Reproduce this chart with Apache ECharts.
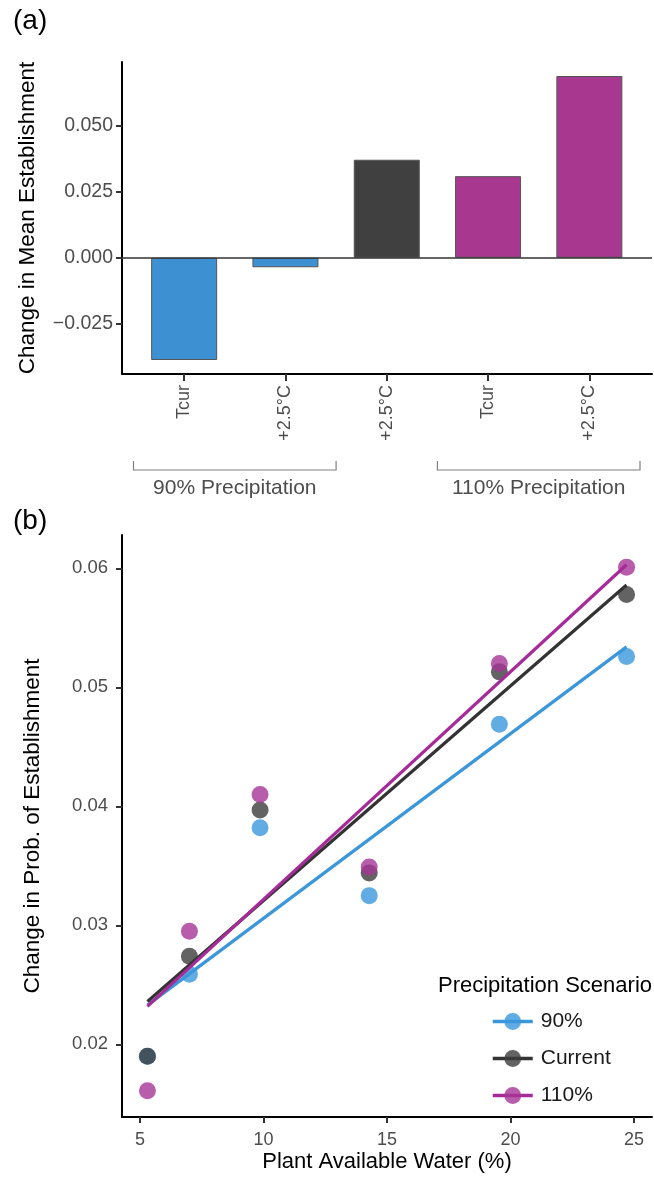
<!DOCTYPE html>
<html>
<head>
<meta charset="utf-8">
<script src="https://cdn.jsdelivr.net/npm/echarts@6/dist/echarts.min.js"></script>
<style>
  html, body { margin: 0; padding: 0; background: #fff; }
  #chart { width: 654px; height: 1182px; }
</style>
</head>
<body>
<div id="chart"></div>
<script>
// ---------- Panel (a) data ----------
const barCategories = ['Tcur', '+2.5°C', '+2.5°C', 'Tcur', '+2.5°C'];
const barScenario = ['90%', '90%', 'Current', '110%', '110%'];
const barValues = [-0.0387, -0.0036, 0.0371, 0.0309, 0.0688];
const barTicks = [-0.025, 0, 0.025, 0.05];
const bracketLabels = ['90% Precipitation', '110% Precipitation'];
const bracketFrom = [0, 3];
const bracketTo = [1, 4];

// ---------- Panel (b) data ----------
const scenarios = ['90%', 'Current', '110%'];
const pawX = [5.3, 7.0, 9.86, 14.28, 19.55, 24.7];
const est90 = [0.0190, 0.0259, 0.0382, 0.0325, 0.0469, 0.0526];
const estCur = [0.0190, 0.0274, 0.0397, 0.0344, 0.0513, 0.0578];
const est110 = [0.0161, 0.0295, 0.0410, 0.0349, 0.0520, 0.0601];
// fitted (lm) line values at first and last x
const fit90 = [0.0233, 0.0534];
const fitCur = [0.0236, 0.0586];
const fit110 = [0.0232, 0.0603];
const xTicksB = [5, 10, 15, 20, 25];
const yTicksB = [0.02, 0.03, 0.04, 0.05, 0.06];

const font = "'Liberation Sans', Arial, Helvetica, sans-serif";
const barColors = { '90%': '#3D91D2', 'Current': '#404040', '110%': '#A8378F' };
const pointColors = { '90%': '#3A97DB', 'Current': '#3c3c3c', '110%': '#A63597' };
const lineColors = { '90%': '#3C97DA', 'Current': '#333333', '110%': '#A62B98' };
const estBy = { '90%': est90, 'Current': estCur, '110%': est110 };
const fitBy = { '90%': fit90, 'Current': fitCur, '110%': fit110 };

const yMinA = -0.044, yMaxA = 0.0741;
const tickLabelColor = '#4d4d4d';

const chart = echarts.init(document.getElementById('chart'), null, { renderer: 'canvas' });

const series = [];
// zero line for panel (a)
series.push({
  type: 'line', xAxisIndex: 0, yAxisIndex: 0, data: [], silent: true,
  markLine: {
    symbol: 'none', silent: true, label: { show: false },
    lineStyle: { color: '#333', width: 1.6, type: 'solid' },
    data: [{ yAxis: 0 }]
  },
  z: 1
});
// bars
series.push({
  type: 'bar', xAxisIndex: 1, yAxisIndex: 1, barWidth: 66,
  data: barValues.map((v, i) => ({
    value: v,
    itemStyle: { color: barColors[barScenario[i]], borderColor: '#555', borderWidth: 1 }
  })),
  z: 2
});
// brackets under the category labels
series.push({
  type: 'custom', xAxisIndex: 1, yAxisIndex: 1, silent: true,
  data: bracketFrom.map((f, i) => [f, 0, i]),
  renderItem: function (params, api) {
    const i = api.value(2);
    const band = api.size([1, 0])[0];
    const p0 = api.coord([bracketFrom[i], yMinA]);
    const p1 = api.coord([bracketTo[i], yMinA]);
    const x0 = p0[0] - band / 2, x1 = p1[0] + band / 2;
    const yb = p0[1];
    const st = { stroke: '#808080', lineWidth: 1.2, fill: null };
    return {
      type: 'group',
      children: [
        { type: 'polyline', shape: { points: [[x0, yb + 87], [x0, yb + 96], [x1, yb + 96], [x1, yb + 87]] }, style: st },
        { type: 'text', style: { text: bracketLabels[i], x: (x0 + x1) / 2, y: yb + 114, align: 'center', verticalAlign: 'middle', fontSize: 21, fontFamily: font, fill: tickLabelColor } }
      ]
    };
  }
});
// panel (b): fit lines (first, so legend takes them) and points
scenarios.forEach(s => {
  series.push({
    name: s, type: 'line', xAxisIndex: 2, yAxisIndex: 2,
    data: [[pawX[0], fitBy[s][0]], [pawX[pawX.length - 1], fitBy[s][1]]],
    symbol: 'circle', showSymbol: false, symbolSize: 17,
    itemStyle: { color: pointColors[s], opacity: 0.8 },
    lineStyle: { color: lineColors[s], width: 3.2 },
    z: 4, silent: true
  });
});
scenarios.forEach(s => {
  series.push({
    name: s, type: 'scatter', xAxisIndex: 2, yAxisIndex: 2,
    data: pawX.map((x, i) => [x, estBy[s][i]]),
    symbol: 'circle', symbolSize: 17,
    itemStyle: { color: pointColors[s], opacity: 0.8 },
    z: 3, silent: true
  });
});

const axisLineStyle = { color: '#000', width: 2 };
const tickStyle = { color: '#333', width: 2 };

const option = {
  animation: false,
  backgroundColor: '#fff',
  textStyle: { fontFamily: font },
  title: [
    { text: '(a)', left: 8, top: 2, textStyle: { fontSize: 28, fontWeight: 'normal', color: '#000', fontFamily: font } },
    { text: '(b)', left: 8, top: 502, textStyle: { fontSize: 28, fontWeight: 'normal', color: '#000', fontFamily: font } },
    { text: 'Precipitation Scenario', left: 433, top: 970, textStyle: { fontSize: 22, fontWeight: 'normal', color: '#000', fontFamily: font } }
  ],
  legend: {
    data: scenarios, orient: 'vertical', left: 486, top: 1006,
    itemWidth: 40, itemHeight: 21, itemGap: 16,
    lineStyle: { width: 3.5 },
    textStyle: { fontSize: 21, color: '#1a1a1a', fontFamily: font, padding: [0, 0, 0, 3] },
    selectedMode: false
  },
  grid: [
    { left: 122, top: 62, width: 530, height: 312 },
    { left: 133.5, top: 62, width: 506.5, height: 312 },
    { left: 122, top: 535, width: 530, height: 582 }
  ],
  xAxis: [
    { gridIndex: 0, type: 'value', min: 0, max: 1, axisLine: { show: true, lineStyle: axisLineStyle, onZero: false },
      axisTick: { show: false }, axisLabel: { show: false }, splitLine: { show: false }, z: 5 },
    { gridIndex: 1, type: 'category', data: barCategories, position: 'bottom',
      axisLine: { show: true, onZero: false, lineStyle: axisLineStyle },
      axisTick: { show: true, inside: false, alignWithLabel: true, length: 7, lineStyle: tickStyle, interval: 0 },
      axisLabel: { rotate: 90, margin: 11, fontSize: 18, color: tickLabelColor, interval: 0, fontFamily: font },
      splitLine: { show: false }, z: 6 },
    { gridIndex: 2, type: 'value', min: 4.27, max: 25.73,
      axisLine: { show: true, lineStyle: axisLineStyle, onZero: false },
      axisTick: { show: true, length: 6, lineStyle: tickStyle, customValues: xTicksB },
      axisLabel: { customValues: xTicksB, margin: 14, fontSize: 18, color: tickLabelColor, fontFamily: font },
      splitLine: { show: false },
      name: 'Plant Available Water (%)', nameLocation: 'middle', nameGap: 34,
      nameTextStyle: { fontSize: 22, color: '#000', fontFamily: font } }
  ],
  yAxis: [
    { gridIndex: 0, type: 'value', min: yMinA, max: yMaxA,
      axisLine: { show: true, lineStyle: axisLineStyle, onZero: false },
      axisTick: { show: true, length: 6, lineStyle: tickStyle, customValues: barTicks },
      axisLabel: { customValues: barTicks, margin: 9, fontSize: 19.5, color: tickLabelColor, fontFamily: font,
        formatter: v => v.toFixed(3).replace('-', '\u2212') },
      splitLine: { show: false },
      name: 'Change in Mean Establishment', nameLocation: 'middle', nameGap: 83,
      nameTextStyle: { fontSize: 22.5, color: '#000', fontFamily: font } },
    { gridIndex: 1, type: 'value', min: yMinA, max: yMaxA, show: false, splitLine: { show: false } },
    { gridIndex: 2, type: 'value', min: 0.0139, max: 0.0628,
      axisLine: { show: true, lineStyle: axisLineStyle, onZero: false },
      axisTick: { show: true, length: 6, lineStyle: tickStyle, customValues: yTicksB },
      axisLabel: { customValues: yTicksB, margin: 14, fontSize: 18.5, color: tickLabelColor, fontFamily: font,
        formatter: v => v.toFixed(2) },
      splitLine: { show: false },
      name: 'Change in Prob. of Establishment', nameLocation: 'middle', nameGap: 78,
      nameTextStyle: { fontSize: 22.5, color: '#000', fontFamily: font } }
  ],
  series: series
};

chart.setOption(option);
</script>
</body>
</html>
